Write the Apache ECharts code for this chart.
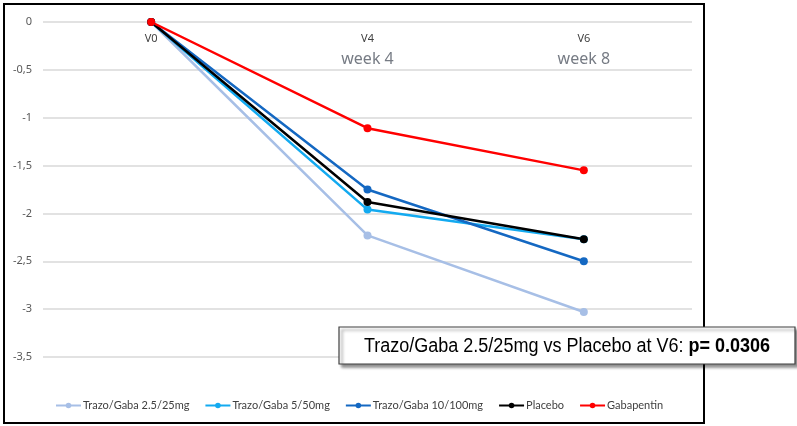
<!DOCTYPE html>
<html>
<head>
<meta charset="utf-8">
<script src="https://cdn.jsdelivr.net/npm/echarts@6/dist/echarts.min.js"></script>
<style>
  html, body { margin: 0; padding: 0; background: #fff; }
  #container { width: 797px; height: 426px; }
</style>
</head>
<body>
<div id="container"></div>
<script>
var categories = ['V0', 'V4', 'V6'];
var weekLabels = ['', 'week 4', 'week 8'];

var trazo25 = [0, -2.23, -3.03];
var trazo50 = [0, -1.96, -2.27];
var trazo100 = [0, -1.75, -2.50];
var placebo = [0, -1.88, -2.27];
var gabapentin = [0, -1.11, -1.55];

var seriesNames = ['Trazo/Gaba 2.5/25mg', 'Trazo/Gaba 5/50mg', 'Trazo/Gaba 10/100mg', 'Placebo', 'Gabapentin'];
var colors = ['#a7bfe6', '#13aaf0', '#1468c2', '#000000', '#ff0000'];

var dom = document.getElementById('container');
var myChart = echarts.init(dom);

function makeSeries(name, data, i) {
  return {
    type: 'line',
    name: name,
    data: data,
    symbol: 'circle',
    symbolSize: 8,
    lineStyle: { width: 2.5, color: colors[i] },
    itemStyle: { color: colors[i] },
    animation: false
  };
}

var option = {
  color: colors,
  grid: { left: 43, right: 105, top: 22, bottom: 69 },
  legend: {
    left: 55,
    top: 400,
    padding: 0,
    itemGap: 15,
    itemWidth: 25,
    itemHeight: 7,
    textStyle: { fontFamily: 'Lato', fontSize: 11, color: '#404040', padding: [0, 0, 0, -3] },
    data: seriesNames
  },
  xAxis: {
    type: 'category',
    position: 'top',
    data: categories,
    boundaryGap: true,
    axisLine: { show: false },
    axisTick: { show: false },
    axisLabel: {
      inside: true,
      margin: 10,
      verticalAlign: 'top',
      formatter: function (v, idx) {
        return weekLabels[idx] ? '{v|' + v + '}\n{w|' + weekLabels[idx] + '}' : '{v|' + v + '}';
      },
      rich: {
        v: { fontFamily: 'Noto Sans', fontSize: 11, color: '#404040', lineHeight: 14 },
        w: { fontFamily: 'Noto Sans', fontSize: 16, color: '#767b84', lineHeight: 26 }
      }
    }
  },
  yAxis: {
    type: 'value',
    min: -3.5,
    max: 0,
    interval: 0.5,
    axisLine: { show: false },
    axisTick: { show: false },
    splitLine: { lineStyle: { color: '#d9d9d9', width: 1.5 } },
    axisLabel: {
      margin: 11,
      fontFamily: 'Noto Sans',
      fontSize: 11,
      color: '#595959',
      formatter: function (v) { return String(v).replace('.', ','); }
    }
  },
  graphic: [
    {
      type: 'rect',
      shape: { x: 4, y: 4, width: 700, height: 419 },
      style: { fill: 'none', stroke: '#000', lineWidth: 2 },
      silent: true
    },
    {
      type: 'rect',
      shape: { x: 339, y: 327, width: 456, height: 37 },
      style: {
        fill: '#fff', stroke: '#404040', lineWidth: 1.2,
        shadowBlur: 3, shadowOffsetX: 3, shadowOffsetY: 3, shadowColor: 'rgba(0,0,0,0.45)'
      },
      z: 10
    },
    {
      type: 'text',
      x: 567,
      y: 346,
      scaleX: 0.9,
      z: 11,
      style: {
        text: '{n|Trazo/Gaba 2.5/25mg vs Placebo at V6: }{b|p= 0.0306}',
        align: 'center',
        verticalAlign: 'middle',
        rich: {
          n: { fontFamily: 'Liberation Sans', fontSize: 20, fill: '#000' },
          b: { fontFamily: 'Liberation Sans', fontSize: 20, fontWeight: 'bold', fill: '#000' }
        }
      }
    }
  ],
  series: [
    makeSeries(seriesNames[0], trazo25, 0),
    makeSeries(seriesNames[1], trazo50, 1),
    makeSeries(seriesNames[2], trazo100, 2),
    makeSeries(seriesNames[3], placebo, 3),
    makeSeries(seriesNames[4], gabapentin, 4)
  ]
};

if (option && typeof option === 'object') {
  myChart.setOption(option, true);
}
</script>
</body>
</html>
